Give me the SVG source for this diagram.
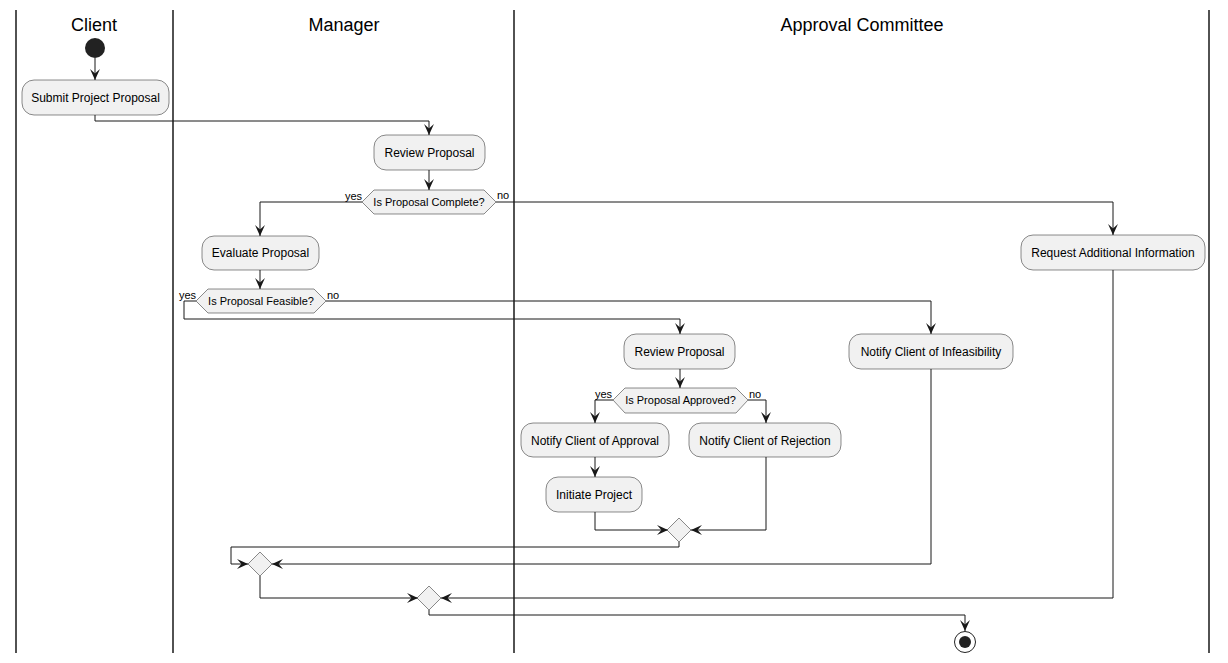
<svg xmlns="http://www.w3.org/2000/svg" width="1228" height="663" viewBox="0 0 1228 663">
<defs>
<marker id="arr" viewBox="0 0 10 10" refX="10" refY="5" markerWidth="11" markerHeight="11" markerUnits="userSpaceOnUse" orient="auto">
<path d="M0,0.5 L10,5 L0,9.5 L4,5 Z" fill="#181818"/>
</marker>
<style>
.lane{stroke:#181818;stroke-width:1.5;fill:none}
.title{font-family:"Liberation Sans",Arial,sans-serif;font-size:18px;fill:#000;text-anchor:middle}
.act{fill:#F1F1F1;stroke:#181818;stroke-width:0.5}
.t{font-family:"Liberation Sans",Arial,sans-serif;font-size:12px;fill:#000;text-anchor:middle}
.dt{font-family:"Liberation Sans",Arial,sans-serif;font-size:11px;fill:#000;text-anchor:middle}
.lbl{font-family:"Liberation Sans",Arial,sans-serif;font-size:11px;fill:#000}
.c{fill:none;stroke:#181818;stroke-width:1;marker-end:url(#arr)}
</style>
</defs>
<rect width="1228" height="663" fill="#fff"/>
<g id="lanes">
<line class="lane" x1="16" y1="10" x2="16" y2="653"/>
<line class="lane" x1="173" y1="10" x2="173" y2="653"/>
<line class="lane" x1="514" y1="10" x2="514" y2="653"/>
<line class="lane" x1="1209" y1="10" x2="1209" y2="653"/>
<text class="title" x="94" y="31">Client</text>
<text class="title" x="344" y="31">Manager</text>
<text class="title" x="862" y="31">Approval Committee</text>
</g>
<g id="connectors">
<path class="c" d="M95,58 V80"/>
<path class="c" d="M95,115 V121 H429 V135"/>
<path class="c" d="M429,170 V190"/>
<path class="c" d="M362,202 H260 V236"/>
<path class="c" d="M496,202 H1113 V235"/>
<path class="c" d="M260,270 V289"/>
<path class="c" d="M196,301 H184 V319 H680 V334"/>
<path class="c" d="M326,301 H931 V334"/>
<path class="c" d="M680,369 V388"/>
<path class="c" d="M613,400 H595 V423"/>
<path class="c" d="M748,400 H766 V423"/>
<path class="c" d="M595,457 V477"/>
<path class="c" d="M595,512 V530 H668"/>
<path class="c" d="M766,457 V530 H691"/>
<path class="c" d="M679,542 V547 H231 V564 H248"/>
<path class="c" d="M931,369 V564 H272"/>
<path class="c" d="M260,576 V598 H418"/>
<path class="c" d="M1113,270 V598 H441"/>
<path class="c" d="M429,610 V615 H965 V631"/>
<text class="lbl" x="345" y="200">yes</text>
<text class="lbl" x="497" y="199">no</text>
<text class="lbl" x="179" y="299">yes</text>
<text class="lbl" x="327" y="299">no</text>
<text class="lbl" x="595" y="398">yes</text>
<text class="lbl" x="749" y="398">no</text>
</g>
<g id="start"><circle cx="95" cy="48" r="10" fill="#222"/></g>
<g id="submit"><rect class="act" x="22" y="80" width="147" height="35" rx="12"/><text class="t" x="95.5" y="102">Submit Project Proposal</text></g>
<g id="review1"><rect class="act" x="374" y="135" width="111" height="35" rx="12"/><text class="t" x="429.5" y="157">Review Proposal</text></g>
<g id="dComplete"><polygon class="act" points="362,202 374,190 484,190 496,202 484,214 374,214"/><text class="dt" x="429" y="206">Is Proposal Complete?</text></g>
<g id="evaluate"><rect class="act" x="202" y="236" width="117" height="34" rx="12"/><text class="t" x="260.5" y="257">Evaluate Proposal</text></g>
<g id="requestInfo"><rect class="act" x="1021" y="235" width="184" height="35" rx="12"/><text class="t" x="1113" y="257">Request Additional Information</text></g>
<g id="dFeasible"><polygon class="act" points="196,301 208,289 314,289 326,301 314,313 208,313"/><text class="dt" x="261" y="305">Is Proposal Feasible?</text></g>
<g id="review2"><rect class="act" x="624" y="334" width="111" height="35" rx="12"/><text class="t" x="679.5" y="356">Review Proposal</text></g>
<g id="infeasible"><rect class="act" x="849" y="334" width="164" height="35" rx="12"/><text class="t" x="931" y="356">Notify Client of Infeasibility</text></g>
<g id="dApproved"><polygon class="act" points="613,400 625,388 736,388 748,400 736,413 625,413"/><text class="dt" x="680.5" y="404">Is Proposal Approved?</text></g>
<g id="approval"><rect class="act" x="521" y="423" width="148" height="34" rx="12"/><text class="t" x="595" y="445">Notify Client of Approval</text></g>
<g id="rejection"><rect class="act" x="689" y="423" width="152" height="34" rx="12"/><text class="t" x="765" y="445">Notify Client of Rejection</text></g>
<g id="initiate"><rect class="act" x="546" y="477" width="96" height="35" rx="12"/><text class="t" x="594" y="499">Initiate Project</text></g>
<g id="merge1"><polygon class="act" points="679,518 691,530 679,542 667,530"/></g>
<g id="merge2"><polygon class="act" points="260,552 272,564 260,576 248,564"/></g>
<g id="merge3"><polygon class="act" points="429,586 441,598 429,610 417,598"/></g>
<g id="end"><circle cx="965" cy="642" r="10.5" fill="#fff" stroke="#222" stroke-width="1"/><circle cx="965" cy="642" r="6" fill="#222"/></g>
</svg>
